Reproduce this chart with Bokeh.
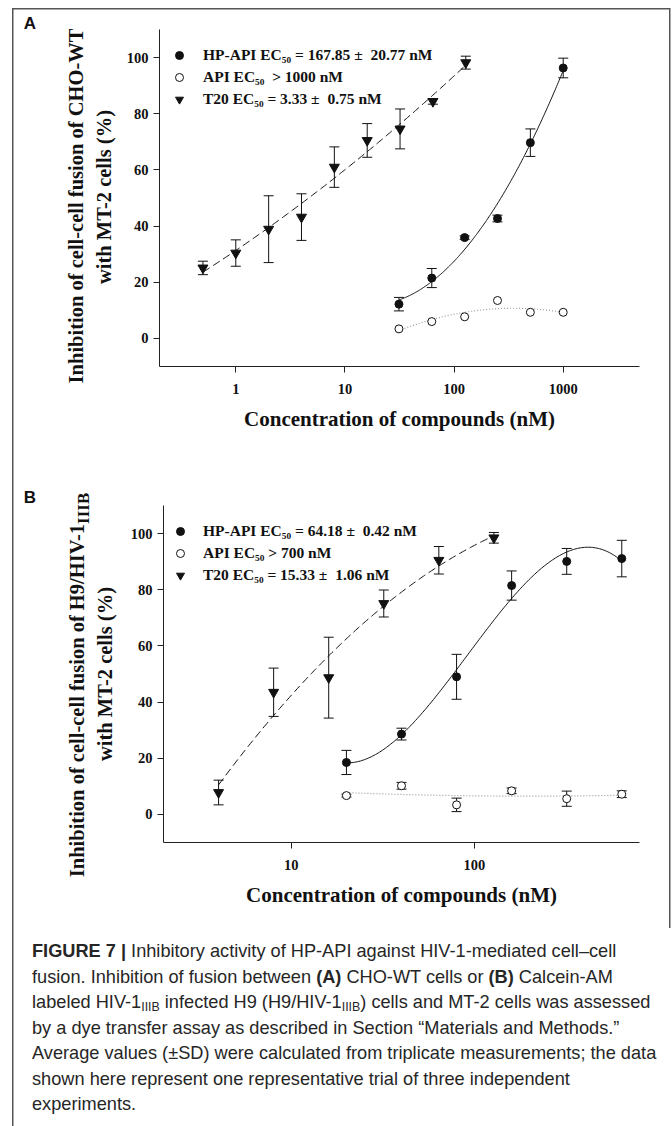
import numpy as np
from bokeh.core.properties import value
from bokeh.embed import file_html
from bokeh.layouts import column, row
from bokeh.models import (ColumnDataSource, Div, FixedTicker, Legend,
                          LegendItem, TeeHead, Whisker)
from bokeh.plotting import figure
from bokeh.resources import INLINE

SERIF = "Liberation Serif"
INK = "#111111"

# ---------------- Panel A: CHO-WT / MT-2 fusion ----------------
conc_t20_a = [0.5, 1, 2, 4, 8, 16, 32, 64, 128]
inh_t20_a = [25.1, 30.4, 38.9, 43.2, 61.0, 70.5, 74.6, 84.4, 98.2]
sd_t20_a = [2.4, 4.7, 11.9, 8.3, 7.2, 6.0, 7.1, 1.0, 2.3]

conc_hp_a = [31.25, 62.5, 125, 250, 500, 1000]
inh_hp_a = [12.2, 21.5, 35.9, 42.7, 69.7, 96.3]
sd_hp_a = [2.4, 3.4, 0.6, 1.2, 4.9, 3.5]

conc_api_a = [31.25, 62.5, 125, 250, 500, 1000]
inh_api_a = [3.4, 6.0, 7.7, 13.5, 9.3, 9.3]

legend_a = ["HP-API EC\u2085\u2080 = 167.85 \u00b1  20.77 nM",
            "API EC\u2085\u2080  > 1000 nM",
            "T20 EC\u2085\u2080 = 3.33 \u00b1  0.75 nM"]

# ---------------- Panel B: H9/HIV-1 IIIB / MT-2 fusion ----------------
conc_t20_b = [4, 8, 16, 32, 64, 128]
inh_t20_b = [7.8, 43.5, 48.7, 75.1, 90.5, 98.5]
sd_t20_b = [4.4, 8.6, 14.4, 4.8, 4.9, 1.9]

conc_hp_b = [20, 40, 80, 160, 320, 640]
inh_hp_b = [18.5, 28.6, 49.0, 81.5, 90.1, 91.1]
sd_hp_b = [4.3, 2.1, 8.0, 5.2, 4.6, 6.5]

conc_api_b = [20, 40, 80, 160, 320, 640]
inh_api_b = [6.7, 10.2, 3.4, 8.4, 5.6, 7.2]
sd_api_b = [0.5, 1.2, 2.4, 1.0, 2.7, 1.2]

legend_b = ["HP-API EC\u2085\u2080 = 64.18 \u00b1  0.42 nM",
            "API EC\u2085\u2080 > 700 nM",
            "T20 EC\u2085\u2080 = 15.33 \u00b1  1.06 nM"]

y_ticks = [0, 20, 40, 60, 80, 100]
x_ticks_a = [1, 10, 100, 1000]
x_tick_labels_a = ["1", "10", "100", "1000"]
x_ticks_b = [10, 100]
x_tick_labels_b = ["10", "100"]

x_title = "Concentration of compounds (nM)"
y_title_a = ["Inhibition of cell-cell fusion of CHO-WT", "with MT-2 cells (%)"]
y_title_b = ["Inhibition of cell-cell fusion of H9/HIV-1", "IIIB", "with MT-2 cells (%)"]

LABEL_W = 120  # width of the strip that carries the panel letter and y title


def poly_curve(conc, inh, deg, n=200):
    """Polynomial regression of inhibition against log10(concentration)."""
    lx = np.log10(np.asarray(conc, dtype=float))
    coef = np.polyfit(lx, np.asarray(inh, dtype=float), deg)
    xs = np.linspace(lx.min(), lx.max(), n)
    return 10 ** xs, np.polyval(coef, xs)


def error_bars(p, conc, inh, sd):
    src = ColumnDataSource(dict(x=conc,
                                lo=[v - e for v, e in zip(inh, sd)],
                                hi=[v + e for v, e in zip(inh, sd)]))
    w = Whisker(source=src, base="x", lower="lo", upper="hi",
                line_color=INK, line_width=1,
                upper_head=TeeHead(size=10, line_color=INK, line_width=1),
                lower_head=TeeHead(size=10, line_color=INK, line_width=1))
    p.add_layout(w)


def make_panel(height, x_range, left, top, frame_h, x_ticks, x_labels):
    p = figure(width=672 - LABEL_W, height=height, x_axis_type="log",
               x_range=x_range, y_range=(-10, 110),
               output_backend="svg", toolbar_location=None,
               min_border_left=left - LABEL_W, min_border_right=33,
               min_border_top=top, min_border_bottom=height - top - frame_h)
    p.border_fill_color = None
    p.background_fill_color = None
    p.outline_line_color = None
    p.grid.visible = False

    p.yaxis.ticker = FixedTicker(ticks=y_ticks)
    p.xaxis.ticker = FixedTicker(ticks=x_ticks)
    p.xaxis.major_label_overrides = {t: s for t, s in zip(x_ticks, x_labels)}
    for ax in (p.xaxis[0], p.yaxis[0]):
        ax.axis_line_color = "#222222"
        ax.axis_line_width = 1
        ax.major_tick_line_color = "#222222"
        ax.major_tick_out = 6
        ax.major_tick_in = 0
        ax.minor_tick_line_color = None
        ax.major_label_text_font = SERIF
        ax.major_label_text_font_style = "bold"
        ax.major_label_text_font_size = "14.5px"
        ax.major_label_text_color = INK
    p.yaxis.major_label_standoff = 5
    p.xaxis.major_label_standoff = 11
    p.xaxis.axis_label = x_title
    p.xaxis.axis_label_text_font = SERIF
    p.xaxis.axis_label_text_font_style = "bold"
    p.xaxis.axis_label_text_font_size = "21px"
    p.xaxis.axis_label_text_color = INK
    p.xaxis.axis_label_standoff = 10
    return p


def add_series(p, t20, hp, api, deg_t20, deg_hp, deg_api, legend_labels,
               legend_loc, standoff):
    (ct, it, st), (ch, ih, sh), (ca, ia, sa) = t20, hp, api
    # regression curves
    xs, ys = poly_curve(ct, it, deg_t20)
    p.line(xs, ys, line_color=INK, line_width=1, line_dash="8 4")
    xs, ys = poly_curve(ch, ih, deg_hp)
    p.line(xs, ys, line_color=INK, line_width=1)
    xs, ys = poly_curve(ca, ia, deg_api)
    p.line(xs, ys, line_color="#9a9a9a", line_width=1.2, line_dash="1 2")
    # error bars
    error_bars(p, ct, it, st)
    error_bars(p, ch, ih, sh)
    if sa is not None:
        error_bars(p, ca, ia, sa)
    # markers
    r_hp = p.scatter(ch, ih, marker="circle", size=8,
                     fill_color=INK, line_color=INK)
    r_api = p.scatter(ca, ia, marker="circle", size=8,
                      fill_color="white", line_color=INK, line_width=1)
    r_t20 = p.scatter(ct, it, marker="inverted_triangle", size=10,
                      fill_color=INK, line_color=INK)
    leg = Legend(items=[LegendItem(label=value(legend_labels[0]), renderers=[r_hp]),
                        LegendItem(label=value(legend_labels[1]), renderers=[r_api]),
                        LegendItem(label=value(legend_labels[2]), renderers=[r_t20])],
                 location=legend_loc, orientation="vertical",
                 glyph_width=20, glyph_height=22, label_height=22,
                 label_width=10, spacing=0, padding=0, margin=0,
                 label_standoff=standoff,
                 border_line_color=None, background_fill_alpha=0,
                 label_text_font=SERIF, label_text_font_style="bold",
                 label_text_font_size="15.5px", label_text_color=INK)
    p.add_layout(leg)


def placed(html, cx, cy, style, rotate=True):
    """An absolutely placed, centred (optionally vertical) piece of text."""
    turn = " rotate(-90deg)" if rotate else ""
    return (f'<div style="position:absolute;left:{cx}px;top:{cy}px;'
            f'transform:translate(-50%,-50%){turn};white-space:nowrap;'
            f'color:{INK};line-height:1;{style}">{html}</div>')


def label_strip(height, parts):
    return Div(text=(f'<div style="position:relative;width:{LABEL_W}px;'
                     f'height:{height}px;">' + "".join(parts) + '</div>'),
               width=LABEL_W, height=height, margin=0)


TITLE_FONT = f"font-family:'{SERIF}';font-weight:bold;font-size:20.5px;"
LETTER_FONT = "font-family:'Liberation Sans';font-weight:bold;font-size:17px;"

# ---------------- figure A ----------------
pa = make_panel(460, (0.2, 5000), 159, 29, 337, x_ticks_a, x_tick_labels_a)
add_series(pa, (conc_t20_a, inh_t20_a, sd_t20_a),
           (conc_hp_a, inh_hp_a, sd_hp_a),
           (conc_api_a, inh_api_a, None),
           2, 2, 2, legend_a, (10, 256), 14)
strip_a = label_strip(460, [
    placed("A", 30, 23, LETTER_FONT, rotate=False),
    placed(y_title_a[0], 76, 206, TITLE_FONT),
    placed(y_title_a[1], 104, 197, TITLE_FONT),
])

# ---------------- figure B ----------------
pb = make_panel(470, (2, 800), 163, 45, 337, x_ticks_b, x_tick_labels_b)
add_series(pb, (conc_t20_b, inh_t20_b, sd_t20_b),
           (conc_hp_b, inh_hp_b, sd_hp_b),
           (conc_api_b, inh_api_b, sd_api_b),
           2, 3, 2, legend_b, (7, 256), 13)
sub_b = (f'{y_title_b[0]}<span style="font-size:17px;position:relative;'
         f'top:5px;">{y_title_b[1]}</span>')
strip_b = label_strip(470, [
    placed("B", 30, 37, LETTER_FONT, rotate=False),
    placed(sub_b, 77, 224.5, TITLE_FONT),
    placed(y_title_b[2], 105, 214, TITLE_FONT),
])

# ---------------- caption ----------------
sub = '<sub style="font-size:0.68em;line-height:0;vertical-align:-0.28em">IIIB</sub>'
caption_html = (
    '<div style="padding:9px 0 0 32px;font-family:\'Liberation Sans\',Arial,sans-serif;'
    'font-size:18.2px;line-height:25.5px;color:#262626;white-space:nowrap;">'
    '<b>FIGURE 7 |</b> Inhibitory activity of HP-API against HIV-1-mediated cell\u2013cell<br>'
    'fusion. Inhibition of fusion between <b>(A)</b> CHO-WT cells or <b>(B)</b> Calcein-AM<br>'
    'labeled HIV-1' + sub + ' infected H9 (H9/HIV-1' + sub + ') cells and MT-2 cells was assessed<br>'
    'by a dye transfer assay as described in Section \u201cMaterials and Methods.\u201d<br>'
    'Average values (\u00b1SD) were calculated from triplicate measurements; the data<br>'
    'shown here represent one representative trial of three independent<br>'
    'experiments.</div>')
caption = Div(text=caption_html, width=672, height=196, margin=0)

page = column(row(strip_a, pa, spacing=0, margin=0),
              row(strip_b, pb, spacing=0, margin=0),
              caption, spacing=0, margin=0)
page.styles = {
    "background-image": "linear-gradient(#555,#555), linear-gradient(#555,#555), "
                        "linear-gradient(#555,#555)",
    "background-position": "12px 8px, 12px 8px, 669px 8px",
    "background-size": "658px 1.5px, 1.5px 1118px, 1.5px 920px",
    "background-repeat": "no-repeat",
}

open("out.html", "w").write(file_html(page, INLINE))
